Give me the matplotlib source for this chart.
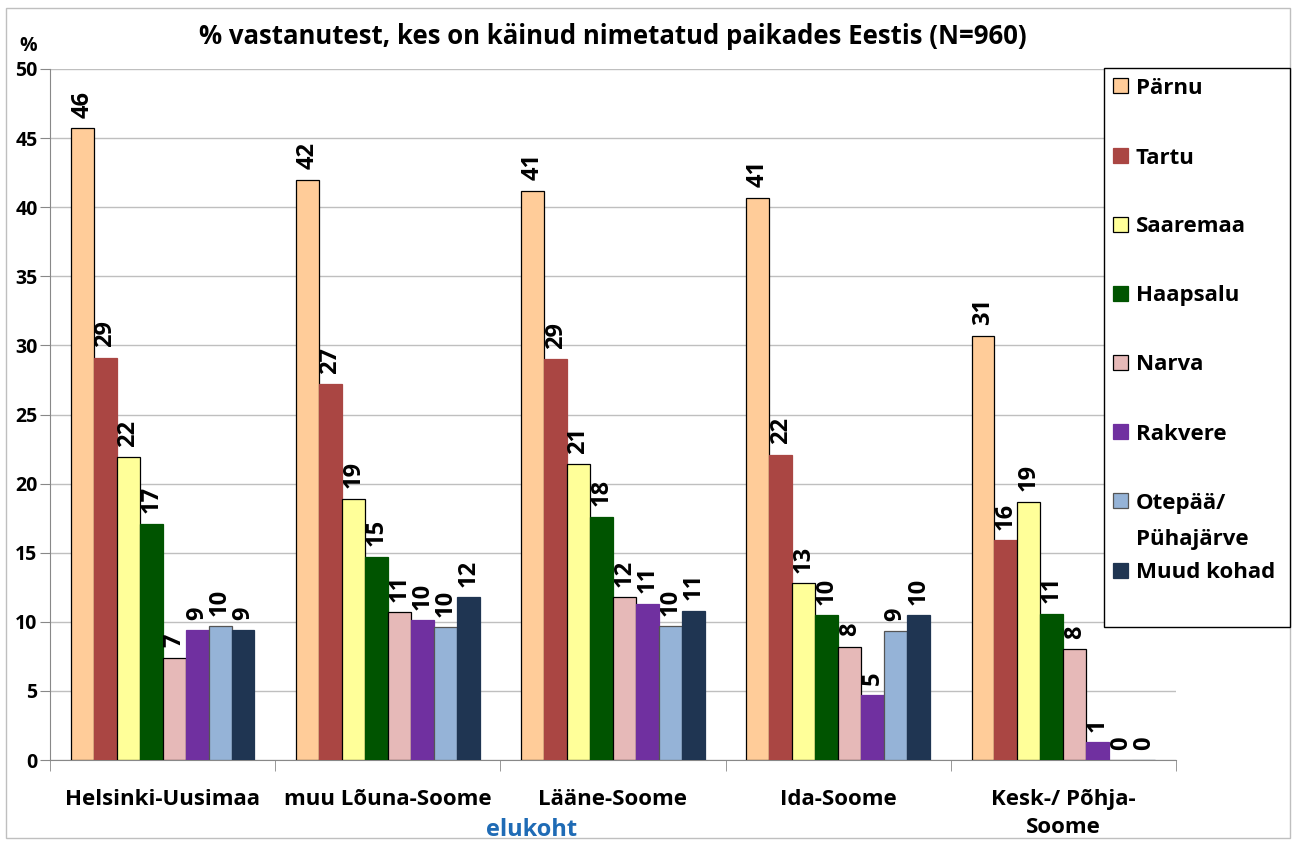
import numpy as np
import matplotlib.pyplot as plt
from matplotlib.patches import Rectangle

plt.rcParams['font.family'] = ['Open Sans', 'DejaVu Sans']
plt.rcParams['font.weight'] = 'bold'

regions = ["Helsinki-Uusimaa", "muu Lõuna-Soome", "Lääne-Soome", "Ida-Soome", "Kesk-/ Põhja-\nSoome"]
places = ["Pärnu", "Tartu", "Saaremaa", "Haapsalu", "Narva", "Rakvere", "Otepää/\nPühajärve", "Muud kohad"]

# % per place, one list per region
helsinki = [45.7, 29.1, 21.9, 17.1, 7.4, 9.4, 9.7, 9.4]
louna = [42.0, 27.2, 18.9, 14.7, 10.7, 10.1, 9.6, 11.8]
laane = [41.2, 29.0, 21.4, 17.6, 11.8, 11.3, 9.7, 10.8]
ida = [40.7, 22.1, 12.8, 10.5, 8.2, 4.7, 9.3, 10.5]
kesk = [30.7, 15.9, 18.7, 10.6, 8.0, 1.3, 0.0, 0.0]

colors = ["#FFCC99", "#AA4643", "#FFFF99", "#005400", "#E6B9B8", "#7030A0", "#95B3D7", "#1F3552"]
edges = ["black", "#AA4643", "black", "#005400", "black", "#7030A0", "#555555", "#1F3552"]

data = np.array([helsinki, louna, laane, ida, kesk])

W, H = 1297, 841
fig = plt.figure(figsize=(W/100, H/100), dpi=100)
ax = fig.add_axes([50/W, 1-760/H, (1176-50)/W, (760-69)/H])

x = np.arange(len(regions))
w = 0.102
for i, p in enumerate(places):
    pos = x - 3.5*w + i*w
    bars = ax.bar(pos, data[:, i], width=w, color=colors[i], edgecolor=edges[i], linewidth=0.9, zorder=3)
    for b, v in zip(bars, data[:, i]):
        ax.text(b.get_x() + b.get_width()/2, v + 0.75, f"{v:.0f}", rotation=90,
                ha='center', va='bottom', fontsize=17, fontweight='bold')

ax.set_xlim(-0.5, len(regions) - 0.5)
ax.set_ylim(0, 50)
ax.set_yticks(range(0, 51, 5))
ax.yaxis.grid(True, color="#BFBFBF", linewidth=1, zorder=0)
ax.set_axisbelow(True)
ax.set_xticks(x)
ax.set_xticklabels(regions, fontsize=16, fontweight='bold', linespacing=1.4)
ax.set_xticks(np.arange(-0.5, len(regions)), minor=True)
ax.tick_params(axis='x', which='major', length=0, pad=21)
ax.tick_params(axis='x', which='minor', length=8, color="#888888")
ax.tick_params(axis='y', length=7, color="#888888", labelsize=14, pad=2)
for lbl in ax.get_yticklabels():
    lbl.set_fontweight('bold')
for s in ['top', 'right']:
    ax.spines[s].set_visible(False)
for s in ['left', 'bottom']:
    ax.spines[s].set_color("#888888")

fig.text(613/W, 1-36/H, "% vastanutest, kes on käinud nimetatud paikades Eestis (N=960)",
         ha='center', va='center', fontsize=18.5, fontweight='bold')
fig.text(28/W, 1-46/H, "%", ha='center', va='center', fontsize=14, fontweight='bold')
fig.text(532/W, 1-830/H, "elukoht", ha='center', va='center', fontsize=17,
         fontweight='bold', color="#1F6BB5")

# legend drawn by hand to match the spacing of the original
fig.patches.append(Rectangle((1104/W, 1-627/H), 186/W, 559/H, transform=fig.transFigure,
                             facecolor='white', edgecolor='black', linewidth=1, zorder=5))
leg_y = [85, 155, 224, 293, 362, 431, 500, 570]
for c, e, lab, yy in zip(colors, edges, places, leg_y):
    fig.patches.append(Rectangle((1113/W, 1-(yy+8)/H), 15/W, 15/H, transform=fig.transFigure,
                                 facecolor=c, edgecolor=e, linewidth=0.9, zorder=6))
    for k, line in enumerate(lab.split("\n")):
        fig.text(1136/W, 1-(yy + 3 + 36*k)/H, line, ha='left', va='center', fontsize=16,
                 fontweight='bold', zorder=6)

fig.patches.append(Rectangle((6/W, 1-838/H), 1284/W, 830/H, transform=fig.transFigure,
                             fill=False, edgecolor="#BFBFBF", linewidth=1))

fig.savefig("out.png", dpi=100)
